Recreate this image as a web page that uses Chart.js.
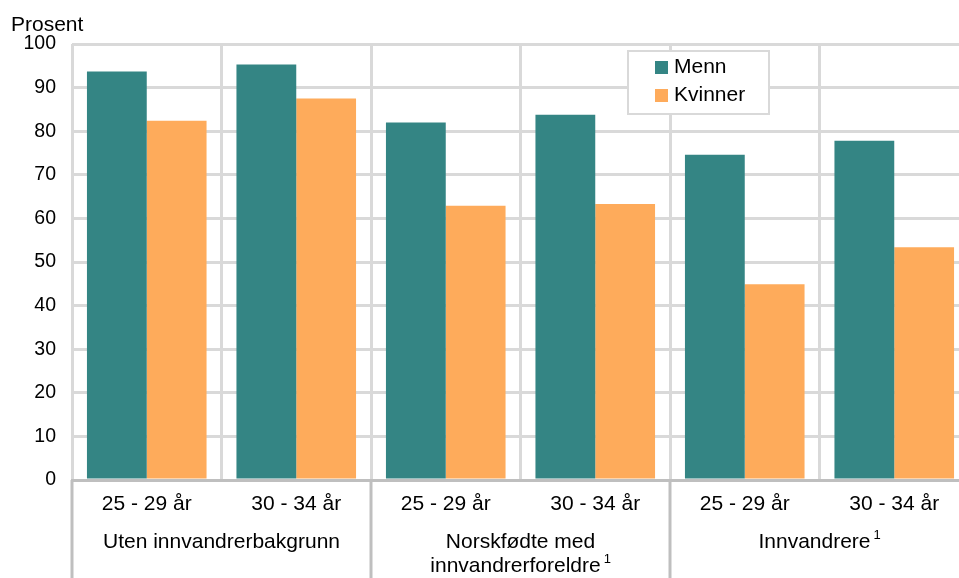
<!DOCTYPE html>
<html>
<head>
<meta charset="utf-8">
<script src="https://cdn.jsdelivr.net/npm/chart.js@4"></script>
<style>
  body { margin: 0; overflow: hidden; background: #fff; }
  #wrap { position: relative; width: 970px; height: 578px; }
</style>
</head>
<body>
<div id="wrap"><canvas id="myChart" width="970" height="578"></canvas></div>
<script>
// data
const ages = ['25 - 29 år', '30 - 34 år', '25 - 29 år', '30 - 34 år', '25 - 29 år', '30 - 34 år'];
const groups = [['Uten innvandrerbakgrunn'], ['Norskfødte med', 'innvandrerforeldre'], ['Innvandrere']];
const groupNotes = ['', '1', '1'];
const menn = [93.7, 95.3, 82.0, 83.8, 74.6, 77.8];
const kvinner = [82.4, 87.5, 62.9, 63.3, 44.9, 53.4];
const yTicks = [0, 10, 20, 30, 40, 50, 60, 70, 80, 90, 100];

const FONT = 'Liberation Sans, Arial, sans-serif';

// "Prosent", group labels, separators under the axis and the boxed legend
const extras = {
  id: 'extras',
  afterDraw(chart) {
    const ctx = chart.ctx;
    const xs = chart.scales.x;
    const area = chart.chartArea;
    const step = xs.getPixelForValue(1) - xs.getPixelForValue(0);

    ctx.save();
    ctx.fillStyle = '#000';
    ctx.font = '21px ' + FONT;
    ctx.textAlign = 'left';
    ctx.textBaseline = 'alphabetic';
    ctx.fillText('Prosent', 11, 31);

    // group separators below the axis
    ctx.strokeStyle = '#bfbfbf';
    ctx.lineWidth = 3;
    for (let g = 0; g <= groups.length; g++) {
      const x = xs.getPixelForValue(g * 2) - step / 2;
      ctx.beginPath();
      ctx.moveTo(x, area.bottom);
      ctx.lineTo(x, chart.height);
      ctx.stroke();
    }

    // group labels
    groups.forEach((lines, g) => {
      const cx = (xs.getPixelForValue(g * 2) + xs.getPixelForValue(g * 2 + 1)) / 2;
      lines.forEach((line, i) => {
        const y = 542 + i * 24.5;
        ctx.font = '21px ' + FONT;
        ctx.textBaseline = 'middle';
        const w = ctx.measureText(line).width;
        const last = i === lines.length - 1 && groupNotes[g];
        const noteW = last ? 10 : 0;
        const x0 = cx - (w + noteW) / 2;
        ctx.textAlign = 'left';
        ctx.fillText(line, x0, y);
        if (last) {
          ctx.font = '13px ' + FONT;
          ctx.fillText(groupNotes[g], x0 + w + 3, y - 7);
        }
      });
    });

    // legend
    ctx.fillStyle = '#fff';
    ctx.fillRect(628, 51, 141, 63);
    ctx.strokeStyle = '#d9d9d9';
    ctx.lineWidth = 2;
    ctx.strokeRect(628, 51, 141, 63);
    chart.data.datasets.forEach((ds, i) => {
      const y = 67 + i * 28;
      ctx.fillStyle = ds.backgroundColor;
      ctx.fillRect(655, y - 6, 13, 13);
      ctx.fillStyle = '#000';
      ctx.font = '21px ' + FONT;
      ctx.textAlign = 'left';
      ctx.textBaseline = 'middle';
      ctx.fillText(ds.label, 674, y);
    });
    ctx.restore();
  }
};

const ctx = document.getElementById('myChart').getContext('2d');
const myChart = new Chart(ctx, {
  type: 'bar',
  data: {
    labels: ages,
    datasets: [
      { label: 'Menn', data: menn, backgroundColor: '#348584', borderWidth: 0 },
      { label: 'Kvinner', data: kvinner, backgroundColor: '#feab5b', borderWidth: 0 }
    ]
  },
  options: {
    responsive: false,
    animation: false,
    events: [],
    categoryPercentage: 0.8,
    barPercentage: 1.0,
    layout: { padding: { top: 44, right: 1, left: 1, bottom: 0 } },
    plugins: {
      legend: { display: false },
      tooltip: { enabled: false }
    },
    scales: {
      x: {
        grid: { offset: true, color: '#d9d9d9', lineWidth: 3, drawTicks: false },
        border: { color: '#bfbfbf', width: 3 },
        ticks: { color: '#000', font: { family: FONT, size: 21 }, padding: 12, maxRotation: 0 },
        afterFit(scale) { scale.height = 98; }
      },
      y: {
        min: 0,
        max: 100,
        afterBuildTicks(scale) { scale.ticks = yTicks.map(v => ({ value: v })); },
        grid: { color: '#d9d9d9', lineWidth: 3, drawTicks: false },
        border: { display: false },
        ticks: { color: '#000', font: { family: FONT, size: 19.5 }, padding: 16 },
        afterFit(scale) { scale.width = 71; }
      }
    }
  },
  plugins: [extras]
});
</script>
</body>
</html>
